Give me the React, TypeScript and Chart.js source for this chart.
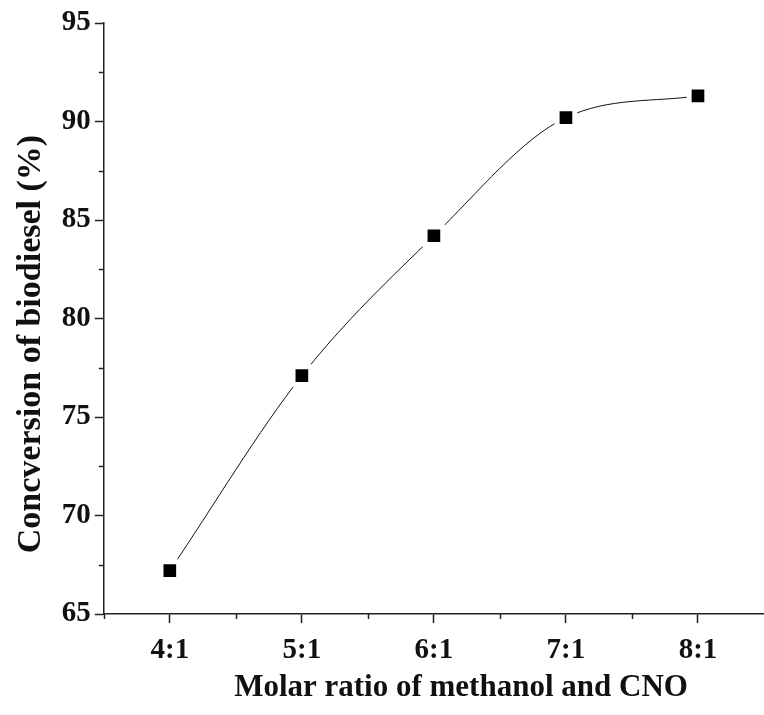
import React, { useEffect, useRef } from "react";
import { Chart, registerables } from "chart.js";

Chart.register(...registerables);

const categories = ["4:1", "5:1", "6:1", "7:1", "8:1"];
const ratioValues = [4, 5, 6, 7, 8];
const conversion = [67.2, 77.1, 84.2, 90.2, 91.3];
const yMajorTicks = [65, 70, 75, 80, 85, 90, 95];
const yMinorTicks = [67.5, 72.5, 77.5, 82.5, 87.5, 92.5];
const xMinorTicks = [3.5, 4.5, 5.5, 6.5, 7.5];

const FONT = "'Liberation Serif', 'Times New Roman', serif";

const minorTicksPlugin = {
  id: "minorTicks",
  afterDraw(chart: any) {
    const ctx = chart.ctx;
    const xs = chart.scales.x;
    const ys = chart.scales.y;
    ctx.save();
    ctx.strokeStyle = "#222";
    ctx.lineWidth = 1.5;
    ctx.beginPath();
    for (const v of xMinorTicks) {
      const px = Math.round(xs.getPixelForValue(v)) + 0.5;
      ctx.moveTo(px, xs.top);
      ctx.lineTo(px, xs.top + 5);
    }
    for (const v of yMinorTicks) {
      const py = Math.round(ys.getPixelForValue(v)) + 0.5;
      ctx.moveTo(ys.right, py);
      ctx.lineTo(ys.right - 5, py);
    }
    ctx.stroke();
    ctx.restore();
  },
};

export default function App() {
  const ref = useRef<HTMLCanvasElement>(null);
  useEffect(() => {
    if (!ref.current) return;
    const chart = new Chart(ref.current, {
      type: "line",
      data: {
        datasets: [
          {
            data: ratioValues.map((x, i) => ({ x, y: conversion[i] })),
            borderColor: "#111",
            borderWidth: 1,
            backgroundColor: "#000",
            pointBackgroundColor: "#000",
            pointBorderColor: "#fff",
            pointBorderWidth: 5,
            pointStyle: "rect",
            pointRadius: 12.5,
            cubicInterpolationMode: "monotone",
            fill: false,
            clip: false,
          },
        ],
      },
      options: {
        animation: false,
        responsive: true,
        maintainAspectRatio: false,
        layout: { autoPadding: false, padding: { top: 23, right: 0, left: 11, bottom: 8 } },
        plugins: { legend: { display: false }, tooltip: { enabled: false } },
        scales: {
          x: {
            type: "linear",
            min: 3.5,
            max: 8.5,
            afterBuildTicks: (scale: any) => {
              scale.ticks = ratioValues.map((v) => ({ value: v }));
            },
            afterFit: (scale: any) => {
              scale.paddingLeft = 0;
              scale.paddingRight = 0;
            },
            ticks: {
              color: "#111",
              font: { family: FONT, size: 29, weight: "bold" },
              padding: 10,
              maxRotation: 0,
              callback: (v: any) => {
                const i = ratioValues.indexOf(Number(v));
                return i >= 0 ? categories[i] : "";
              },
            },
            grid: {
              drawOnChartArea: false,
              tickLength: 9,
              tickWidth: 1.5,
              tickColor: "#222",
            },
            border: { color: "#222", width: 1.5 },
            title: {
              display: true,
              text: "       Molar ratio of methanol and CNO",
              color: "#111",
              font: { family: FONT, size: 31, weight: "bold" },
              padding: { top: -8, bottom: 0 },
            },
          },
          y: {
            type: "linear",
            min: 65,
            max: 95,
            afterBuildTicks: (scale: any) => {
              scale.ticks = yMajorTicks.map((v) => ({ value: v }));
            },
            ticks: {
              color: "#111",
              font: { family: FONT, size: 29, weight: "bold" },
              padding: 4,
            },
            grid: {
              drawOnChartArea: false,
              tickLength: 9,
              tickWidth: 1.5,
              tickColor: "#222",
            },
            border: { color: "#222", width: 1.5 },
            title: {
              display: true,
              text: "Concversion of biodiesel (%)      ",
              color: "#111",
              font: { family: FONT, size: 34, weight: "bold" },
              padding: { top: 0, bottom: 6 },
            },
          },
        },
      },
      plugins: [minorTicksPlugin],
    });
    return () => chart.destroy();
  }, []);
  return (
    <div style={{ position: "fixed", left: 0, top: 0, width: 764, height: 715, background: "#fff" }}>
      <canvas ref={ref} />
    </div>
  );
}
